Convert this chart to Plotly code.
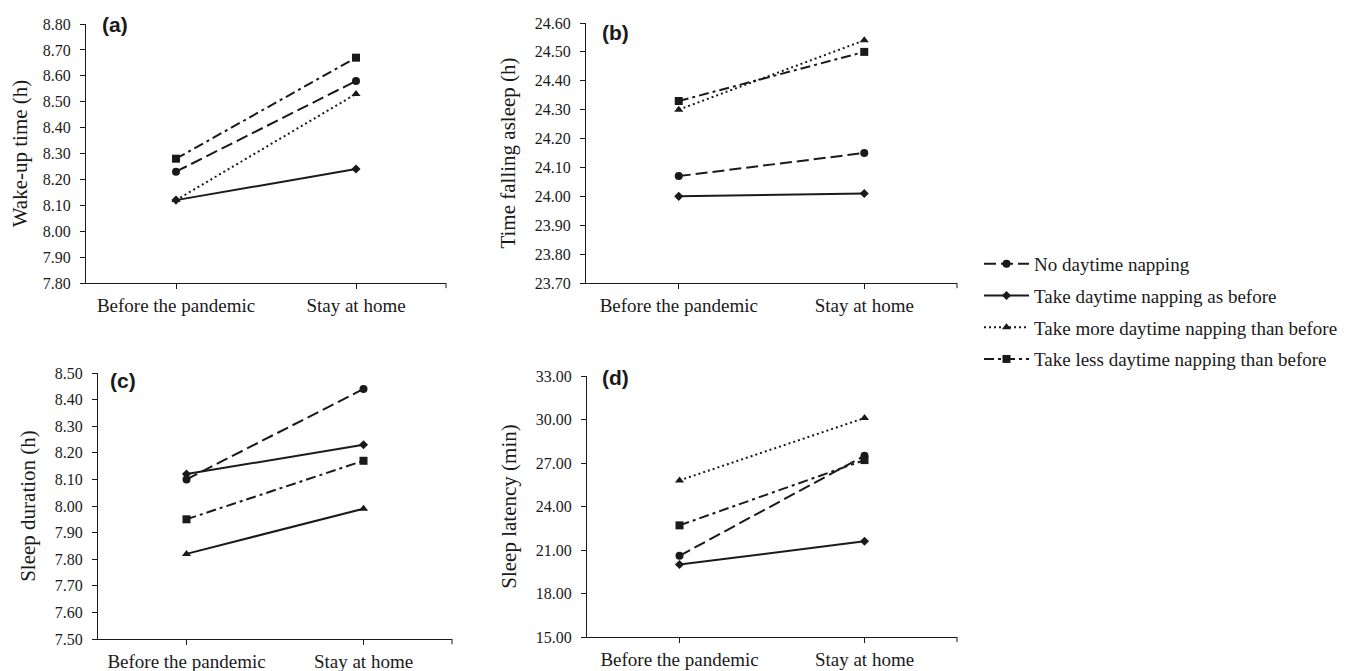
import plotly.graph_objects as go

categories = ["Before the pandemic", "Stay at home"]
series_names = ["No daytime napping", "Take daytime napping as before",
                "Take more daytime napping than before", "Take less daytime napping than before"]

# Panel (a) Wake-up time (h)
wake_no = [8.23, 8.58]
wake_same = [8.12, 8.24]
wake_more = [8.12, 8.53]
wake_less = [8.28, 8.67]
# Panel (b) Time falling asleep (h)
asleep_no = [24.07, 24.15]
asleep_same = [24.00, 24.01]
asleep_more = [24.30, 24.54]
asleep_less = [24.33, 24.50]
# Panel (c) Sleep duration (h)
dur_no = [8.10, 8.44]
dur_same = [8.12, 8.23]
dur_more = [7.82, 7.99]
dur_less = [7.95, 8.17]
# Panel (d) Sleep latency (min)
lat_no = [20.6, 27.5]
lat_same = [20.0, 21.6]
lat_more = [25.8, 30.1]
lat_less = [22.7, 27.2]

# page body has an 8px margin; figure is sized to fit the window
OFF = 8
W, H = 1350 - OFF, 671 - OFF


def px(x):
    return (x - OFF) / W


def py(y):
    return 1 - (y - OFF) / H


panels = [
    dict(label="(a)", title="Wake-up time (h)", data=[wake_no, wake_same, wake_more, wake_less],
         yrange=[7.80, 8.80], dtick=0.10, fmt=".2f", lab_dx=14, lab_dy=0,
         xdom=[px(86), px(446)], ydom=[py(283), py(24)]),
    dict(label="(b)", title="Time falling asleep (h)", data=[asleep_no, asleep_same, asleep_more, asleep_less],
         yrange=[23.70, 24.60], dtick=0.10, fmt=".2f", lab_dx=14, lab_dy=-9,
         xdom=[px(586), px(957)], ydom=[py(283), py(23)]),
    dict(label="(c)", title="Sleep duration (h)", data=[dur_no, dur_same, dur_more, dur_less],
         yrange=[7.50, 8.50], dtick=0.10, fmt=".2f", lab_dx=10, lab_dy=-7,
         xdom=[px(98), px(452)], ydom=[py(639), py(373)]),
    dict(label="(d)", title="Sleep latency (min)", data=[lat_no, lat_same, lat_more, lat_less],
         yrange=[15.0, 33.0], dtick=3.0, fmt=".2f", lab_dx=13, lab_dy=-1,
         xdom=[px(587), px(957)], ydom=[py(637), py(376)]),
]

ink = "#1a1a1a"
dashes = ["12px,5px", "solid", "2px,3px", "10px,4px,3px,4px"]
symbols = ["circle", "diamond", "triangle-up", "square"]
msizes = [8, 7, 8, 8]

fig = go.Figure()
serif = "Liberation Serif"

for i, p in enumerate(panels):
    xa = "x" if i == 0 else f"x{i+1}"
    ya = "y" if i == 0 else f"y{i+1}"
    for k, name in enumerate(series_names):
        dash = dashes[k]
        if p["label"] == "(c)" and k == 2:
            dash = "solid"
        fig.add_trace(go.Scatter(
            x=categories, y=p["data"][k], mode="lines+markers", name=name,
            xaxis=xa, yaxis=ya, showlegend=(i == 0), legendgroup=name,
            line=dict(color=ink, width=2, dash=dash),
            marker=dict(symbol=symbols[k], size=msizes[k], color=ink),
        ))
    axkey_x = "xaxis" if i == 0 else f"xaxis{i+1}"
    axkey_y = "yaxis" if i == 0 else f"yaxis{i+1}"
    fig.update_layout(**{
        axkey_x: dict(domain=p["xdom"], anchor=ya, type="category", range=[-0.5, 1.5],
                      automargin=False,
                      showline=True, linecolor=ink, linewidth=1, ticks="outside", ticklen=5,
                      tickcolor=ink, showgrid=False, zeroline=False, ticklabelstandoff=0,
                      tickfont=dict(family=serif, size=19, color=ink)),
        axkey_y: dict(domain=p["ydom"], anchor=xa, range=p["yrange"], dtick=p["dtick"],
                      tick0=p["yrange"][0], tickformat=p["fmt"], automargin=False,
                      showline=True, linecolor=ink, linewidth=1, ticks="outside", ticklen=5,
                      tickcolor=ink, showgrid=False, zeroline=False, ticklabelstandoff=6,
                      tickfont=dict(family=serif, size=16, color=ink),
                      title=dict(text=p["title"], font=dict(family=serif, size=21, color=ink), standoff=13)),
    })
    fig.add_annotation(text="<b>" + p["label"] + "</b>", xref=f"{xa} domain", yref=f"{ya} domain",
                       x=0, y=1.0, xanchor="left", yanchor="middle", showarrow=False,
                       xshift=p["lab_dx"], yshift=p["lab_dy"],
                       font=dict(family="Liberation Sans", size=21, color=ink))
    # right-end tick of the x axis
    fig.add_shape(type="line", xref=f"{xa} domain", yref=f"{ya} domain",
                  x0=1, x1=1, y0=0, y1=-0.02, line=dict(color=ink, width=1))

fig.update_layout(
    width=W, height=H, margin=dict(l=0, r=0, t=0, b=0),
    paper_bgcolor="white", plot_bgcolor="white",
    legend=dict(x=px(979), y=py(245), xanchor="left", yanchor="top",
                font=dict(family=serif, size=19, color=ink), itemwidth=45,
                tracegroupgap=4, bgcolor="rgba(0,0,0,0)"),
    showlegend=True,
)

fig.write_html("out.html")
